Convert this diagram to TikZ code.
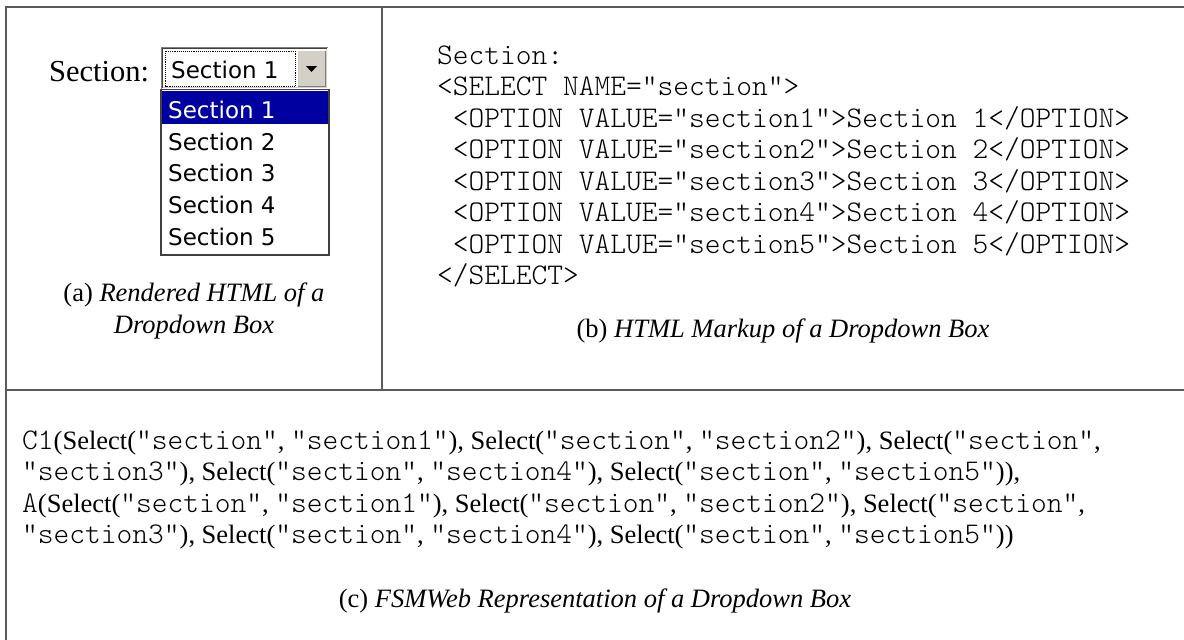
\documentclass[tikz,border=0pt]{standalone}
\usepackage{fontspec}
\setmainfont{Liberation Serif}
\setmonofont[Scale=1.132]{lmmonolt10-regular.otf}
\newfontfamily\widgetfont{DejaVu Sans}
\definecolor{framegray}{HTML}{5A5A5A}
\definecolor{hilite}{HTML}{0000A0}
\definecolor{btnface}{HTML}{D4D0C8}
\definecolor{shadowgray}{HTML}{808080}
\definecolor{darkshadow}{HTML}{404040}
\newcommand\qs[1]{\texttt{"#1"}}
\tikzset{
  frame/.style={draw=framegray, line width=1.6pt},
  captext/.style={font=\fontsize{26.5}{32}\selectfont, inner sep=0pt, anchor=base},
  codeline/.style={font=\fontsize{26.5}{31.5}\selectfont\ttfamily, anchor=base west, inner sep=0pt},
  mixline/.style={font=\fontsize{26.5}{31.5}\selectfont, anchor=base west, inner sep=0pt},
  widgettext/.style={font=\widgetfont\fontsize{23}{28}\selectfont, anchor=base west, inner sep=0pt},
  labeltext/.style={font=\fontsize{30.5}{36}\selectfont, anchor=base west, inner sep=0pt},
}
\begin{document}
\begin{tikzpicture}[x=1pt,y=-1pt]
\useasboundingbox (0,0) rectangle (1184,640);

% panel frame and dividers
\coordinate (ftl) at (6,7);
\coordinate (ftr) at (1200,7);
\coordinate (fbl) at (6,660);
\coordinate (vtop) at (382,7);
\coordinate (vbot) at (382,390);
\coordinate (hl) at (6,390);
\coordinate (hr) at (1200,390);
\draw[frame] (ftr) -- (ftl) -- (fbl);
\draw[frame] (vtop) -- (vbot);
\draw[frame] (hl) -- (hr);

% (a) rendered dropdown widget
\node[labeltext] (seclabel) at (49,81) {Section:};
% combo field with sunken border
\fill[white] (161,47) rectangle (328,89);
\draw[shadowgray, line width=1pt] (161.5,89) -- (161.5,47.5) -- (328,47.5);
\draw[darkshadow, line width=1pt] (162.5,88) -- (162.5,48.5) -- (327,48.5);
\draw[white, line width=1pt] (161.5,88.5) -- (327.5,88.5) -- (327.5,47.5);
\draw[btnface, line width=1pt] (163,87.5) -- (326.5,87.5) -- (326.5,49);
\draw[black, densely dotted, line width=0.9pt] (165.5,51) rectangle (295.5,86);
\node[widgettext] (combo) at (171,78.5) {Section 1};
% drop button
\fill[btnface] (297,50) rectangle (326,87);
\draw[white, line width=1pt] (297.5,86.5) -- (297.5,50.5) -- (325.5,50.5);
\draw[shadowgray, line width=1pt] (298,86.5) -- (325.5,86.5) -- (325.5,51);
\fill[black] (306,66) -- (317,66) -- (311.5,72) -- cycle;
% opened list
\fill[white] (161,89.5) rectangle (329,255);
\fill[hilite] (162,90.5) rectangle (328,124);
\draw[darkshadow, line width=1.5pt] (161,89.5) rectangle (329,255);
\node[widgettext, text=white] (opt1) at (168,118) {Section 1};
\node[widgettext] (opt2) at (168,150) {Section 2};
\node[widgettext] (opt3) at (168,181.5) {Section 3};
\node[widgettext] (opt4) at (168,213) {Section 4};
\node[widgettext] (opt5) at (168,245) {Section 5};
\node[captext] (capa1) at (194,301) {(a) \textit{Rendered HTML of a}};
\node[captext] (capa2) at (194,333) {\textit{Dropdown Box}};

% (b) HTML markup
\node[codeline] (m0) at (437,64) {Section:};
\node[codeline] (m1) at (437,95.5) {<SELECT NAME="section">};
\node[codeline] (m2) at (437,127) {\hphantom{<}<OPTION VALUE="section1">Section 1</OPTION>};
\node[codeline] (m3) at (437,158.5) {\hphantom{<}<OPTION VALUE="section2">Section 2</OPTION>};
\node[codeline] (m4) at (437,190) {\hphantom{<}<OPTION VALUE="section3">Section 3</OPTION>};
\node[codeline] (m5) at (437,221.5) {\hphantom{<}<OPTION VALUE="section4">Section 4</OPTION>};
\node[codeline] (m6) at (437,253) {\hphantom{<}<OPTION VALUE="section5">Section 5</OPTION>};
\node[codeline] (m7) at (437,284.5) {</SELECT>};
\node[captext] (capb) at (783,337) {(b) \textit{HTML Markup of a Dropdown Box}};

% (c) FSMWeb representation
\node[mixline] (f1) at (22,449) {\texttt{C1}(Select(\qs{section}, \qs{section1}), Select(\qs{section}, \qs{section2}), Select(\qs{section},};
\node[mixline] (f2) at (22,480.5) {\qs{section3}), Select(\qs{section}, \qs{section4}), Select(\qs{section}, \qs{section5})),};
\node[mixline] (f3) at (22,512) {\texttt{A}(Select(\qs{section}, \qs{section1}), Select(\qs{section}, \qs{section2}), Select(\qs{section},};
\node[mixline] (f4) at (22,543.5) {\qs{section3}), Select(\qs{section}, \qs{section4}), Select(\qs{section}, \qs{section5}))};
\node[captext] (capc) at (595,607) {(c) \textit{FSMWeb Representation of a Dropdown Box}};
\end{tikzpicture}
\end{document}
